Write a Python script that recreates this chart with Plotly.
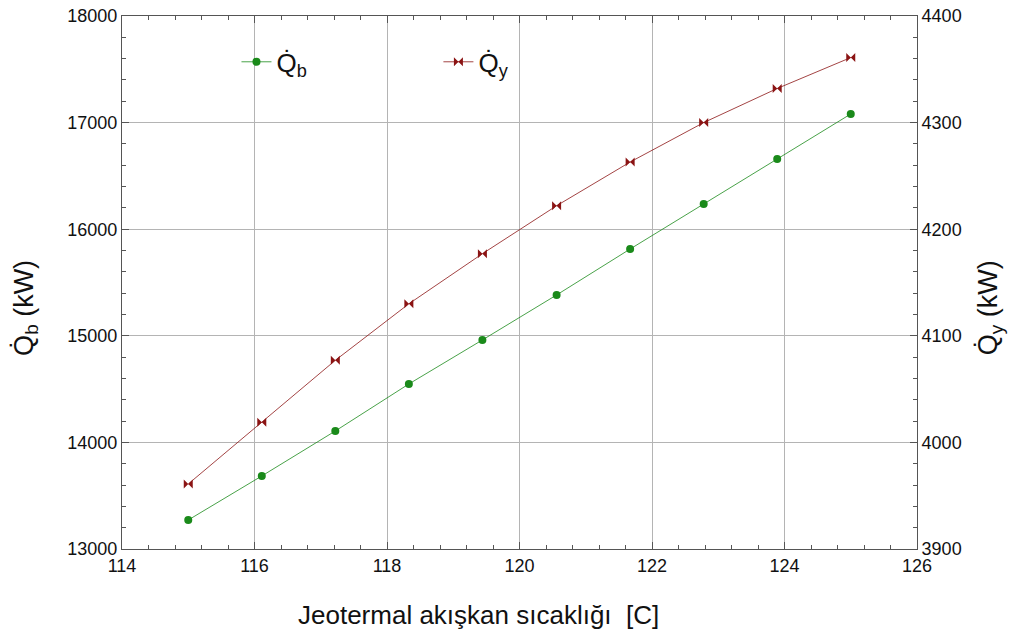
import plotly.graph_objects as go

T = [115.0, 116.11, 117.22, 118.33, 119.44, 120.56, 121.67, 122.78, 123.89, 125.0]
Qb = [13272, 13685, 14107, 14548, 14961, 15383, 15814, 16236, 16659, 17081]
Qy = [3961, 4019, 4077, 4130, 4177, 4222, 4263, 4300, 4332, 4361]

GREEN = "#1a8a1a"
RED = "#8b1414"
FONT = "Liberation Sans, Arial, sans-serif"
QB = "Q\u0307<sub>b</sub>"
QY = "Q\u0307<sub>y</sub>"
XTITLE = "Jeotermal akışkan sıcaklığı  [C]"

fig = go.Figure()
fig.add_trace(go.Scatter(x=T, y=Qb, mode="lines+markers", name=QB,
                         line=dict(color=GREEN, width=0.8),
                         marker=dict(color=GREEN, size=8, symbol="circle"),
                         legend="legend"))
fig.add_trace(go.Scatter(x=T, y=Qy, mode="lines+markers", name=QY, yaxis="y2",
                         line=dict(color=RED, width=0.8),
                         marker=dict(color=RED, size=9, symbol="bowtie"),
                         legend="legend2"))

axis_common = dict(linecolor="#555", linewidth=1, ticks="inside", ticklen=7,
                   tickcolor="#555", tickfont=dict(family=FONT, size=18, color="#111"),
                   zeroline=False, tickformat="d", automargin=False)

fig.update_layout(
    width=1012, height=632,
    margin=dict(l=122, r=95, t=16, b=83),
    paper_bgcolor="white", plot_bgcolor="white",
    font=dict(family=FONT, color="#111"),
    showlegend=True,
    legend=dict(x=0.144, y=0.958, xanchor="left", yanchor="top", bgcolor="rgba(0,0,0,0)",
                font=dict(family=FONT, size=26), itemwidth=30),
    legend2=dict(x=0.398, y=0.958, xanchor="left", yanchor="top", bgcolor="rgba(0,0,0,0)",
                 font=dict(family=FONT, size=26), itemwidth=30),
    xaxis=dict(range=[114, 126], dtick=2, tick0=114, mirror="ticks",
               showgrid=True, gridcolor="#b4b4b4", gridwidth=1,
               minor=dict(dtick=0.4, tick0=114, ticks="inside", ticklen=4, tickcolor="#555", showgrid=False),
               **axis_common),
    yaxis=dict(range=[13000, 18000], dtick=1000, showgrid=True, gridcolor="#b4b4b4", gridwidth=1,
               minor=dict(dtick=200, ticks="inside", ticklen=4, tickcolor="#555", showgrid=False),
               **axis_common),
    yaxis2=dict(range=[3900, 4400], dtick=100, overlaying="y", side="right", showgrid=False,
                minor=dict(dtick=20, ticks="inside", ticklen=4, tickcolor="#555", showgrid=False),
                **axis_common),
    annotations=[
        dict(text=XTITLE, xref="paper", yref="paper", x=0.448, y=-0.124,
             xanchor="center", yanchor="middle", showarrow=False,
             font=dict(family=FONT, size=26, color="#111")),
        dict(text=QB + " (kW)", xref="paper", yref="paper", x=-0.121, y=0.452,
             xanchor="center", yanchor="middle", showarrow=False, textangle=-90,
             font=dict(family=FONT, size=27, color="#111")),
        dict(text=QY + " (kW)", xref="paper", yref="paper", x=1.092, y=0.452,
             xanchor="center", yanchor="middle", showarrow=False, textangle=-90,
             font=dict(family=FONT, size=27, color="#111")),
    ],
)

fig.write_html("out.html", config={"displayModeBar": False},
               post_script="document.body.style.margin='0';document.body.style.overflow='hidden';")
